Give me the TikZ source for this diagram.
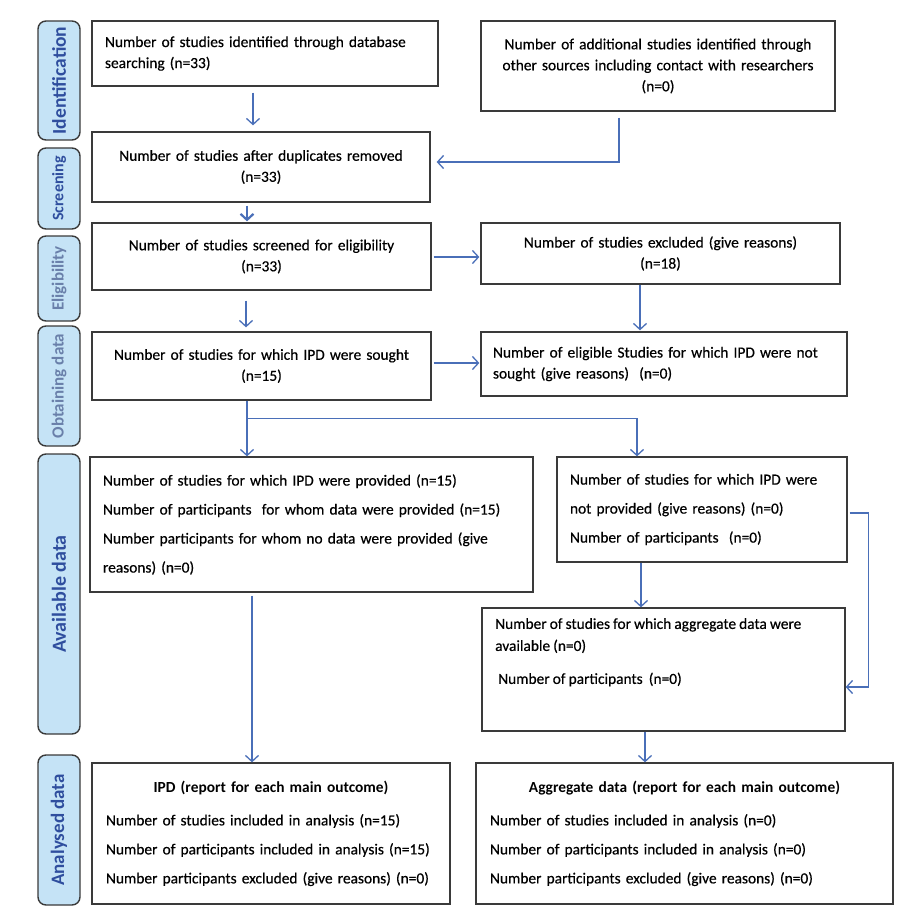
\documentclass[tikz,border=0pt]{standalone}
\usepackage{fontspec}
\setmainfont{Carlito}
\newfontface\bodyfont{Carlito}[FakeBold=0.5]
\usetikzlibrary{arrows.meta}
\definecolor{conn}{HTML}{4A6FB8}
\definecolor{boxline}{HTML}{3A3A3A}
\definecolor{lblfill}{HTML}{C5E3F6}
\definecolor{lbldark}{HTML}{2F4E9E}
\definecolor{lblfade}{HTML}{6A80AA}
\newcommand\bodysz[1]{\bodyfont\fontsize{15.4}{#1}\selectfont\spaceskip=0.2em\relax}
\newcommand\ttlfont{\rmfamily\bfseries\fontsize{15.4}{21}\selectfont}
\begin{document}
\begin{tikzpicture}[x=1pt,y=-1pt,
  box/.style={draw=boxline, line width=1.3pt, inner sep=0pt, font=\bodysz{21}},
  lbl/.style={draw=boxline, line width=1.4pt, fill=lblfill, rounded corners=8pt, minimum width=42pt, inner sep=0pt, rotate=90, font=\bfseries},
  arr/.style={draw=conn, line width=1.3pt, -{Straight Barb[length=6pt,width=13pt]}},
  ln/.style={draw=conn, line width=1.3pt}
]
\useasboundingbox (0,0) rectangle (923,920);

% stage labels
\node[lbl, minimum width=119pt, minimum height=42pt, text=lbldark, font=\bfseries\fontsize{19.5}{20}\selectfont] (sIdent) at (59,80.5) {Identification};
\node[lbl, minimum width=81pt, minimum height=42pt, text=lbldark, font=\bfseries\fontsize{16}{18}\selectfont] (sScreen) at (59,188.5) {Screening};
\node[lbl, minimum width=85pt, minimum height=42pt, text=lblfade, font=\bfseries\fontsize{17}{18}\selectfont] (sElig) at (59,278.5) {Eligibility};
\node[lbl, minimum width=120pt, minimum height=42pt, text=lblfade, font=\bfseries\fontsize{17}{18}\selectfont] (sObt) at (59,386) {Obtaining data};
\node[lbl, minimum width=280pt, minimum height=42pt, text=lbldark, font=\bfseries\fontsize{20}{22}\selectfont] (sAvail) at (59,594) {Available data};
\node[lbl, minimum width=150pt, minimum height=42pt, text=lbldark, font=\bfseries\fontsize{19}{20}\selectfont] (sAnal) at (59,830) {Analysed data};

% boxes
\node[box, minimum width=346pt, minimum height=65pt, text width=320pt, align=left] (b1) at (265,53.5)
  {\mbox{Number of studies identified through database}\\searching (n=33)};
\node[box, minimum width=354pt, minimum height=90pt, text width=340pt, align=center] (b2) at (658,66)
  {\mbox{Number of additional\ studies identified through}\\\mbox{other sources including contact\ with researchers}\\(n=0)};
\node[box, minimum width=338pt, minimum height=70pt, text width=320pt, align=center] (dup) at (261,167)
  {\mbox{Number of studies after duplicates removed}\\(n=33)};
\node[box, minimum width=339pt, minimum height=67pt, text width=320pt, align=center] (elig) at (261.5,256.5)
  {\mbox{Number of studies screened for eligibility}\\(n=33)};
\node[box, minimum width=359pt, minimum height=61pt, text width=340pt, align=center] (excl) at (660.5,253.5)
  {\mbox{Number of studies excluded (give reasons)}\\(n=18)};
\node[box, minimum width=339pt, minimum height=68pt, text width=320pt, align=center] (obt) at (261.5,366)
  {\mbox{Number of studies for which IPD were sought}\\(n=15)};
\node[box, minimum width=366pt, minimum height=64pt, text width=342pt, align=left] (nsought) at (664,364)
  {\mbox{Number of eligible\ Studies for which IPD were not}\\\mbox{sought (give reasons)\ \ (n=0)}};
\node[box, minimum width=443pt, minimum height=135pt, text width=417pt, align=left, font=\bodysz{29}] (prov) at (311.5,524.5)
  {\mbox{Number of studies for which IPD were provided (n=15)}\\\mbox{Number of participants\ \ for whom data were provided (n=15)}\\\mbox{Number participants\ for whom no data were provided (give}\\\mbox{reasons) (n=0)}};
\node[box, minimum width=290pt, minimum height=105pt, text width=264pt, align=left, font=\bodysz{29}] (nprov) at (702,509.5)
  {\mbox{Number of studies for which IPD were}\\\mbox{not provided (give reasons) (n=0)}\\\mbox{Number of participants\ \ (n=0)}};
\node[box, minimum width=363pt, minimum height=123pt] (aggav) at (663.5,669.5) {};
\node[font=\bodysz{22}, align=left, anchor=north west, inner sep=0pt] (aggavtxt) at (495,618)
  {\mbox{Number of studies for which aggregate data were}\\\mbox{available\ (n=0)}\\[11pt]\hspace{3pt}\mbox{Number of participants\ \ (n=0)}};
\node[box, minimum width=358pt, minimum height=141pt, text width=330pt, align=left, font=\bodysz{29}] (ipdan) at (271,833.5)
  {\makebox[\linewidth][c]{\ttlfont IPD (report for each main outcome)}\\[4pt]\mbox{Number of studies included\ in analysis (n=15)}\\\mbox{Number of participants\ included\ in analysis\ (n=15)}\\\mbox{Number participants\ excluded (give reasons) (n=0)}};
\node[box, minimum width=417pt, minimum height=141pt, text width=389pt, align=left, font=\bodysz{29}] (aggan) at (684.5,833.5)
  {\makebox[\linewidth][c]{\ttlfont Aggregate data (report for each main outcome)}\\[4pt]\mbox{Number of studies included in analysis (n=0)}\\\mbox{Number of participants\ included in analysis\ (n=0)}\\\mbox{Number participants excluded (give reasons) (n=0)}};

% connectors
\coordinate (c1) at ([xshift=-12pt]b1.south);
\draw[arr, shorten <=6pt, shorten >=6pt] (c1) -- (c1 |- dup.north);
\coordinate (c2) at ([xshift=-39pt]b2.south);
\draw[arr, shorten <=6pt, shorten >=6pt] (c2) |- ([yshift=5pt]dup.east);
\coordinate (c3) at ([xshift=-14pt]dup.south);
\draw[draw=conn, line width=2.6pt, -{Straight Barb[length=6pt,width=13pt,line width=2.2pt]}, shorten <=3pt, shorten >=1pt] (c3) -- (c3 |- elig.north);
\coordinate (c3b) at ([yshift=-0.5pt]elig.east);
\draw[arr, shorten <=2pt, shorten >=1pt] (c3b) -- (c3b -| excl.west);
\coordinate (c4) at ([xshift=-20.5pt]excl.south);
\draw[arr, shorten >=1pt] (c4) -- (c4 |- nsought.north);
\coordinate (c5) at ([xshift=-15.5pt]elig.south);
\draw[arr, shorten <=10pt, shorten >=4pt] (c5) -- (c5 |- obt.north);
\coordinate (c6) at ([yshift=3pt]obt.east);
\draw[arr, shorten <=2pt, shorten >=1pt] (c6) -- (c6 -| nsought.west);
\coordinate (c7) at ([xshift=-14.5pt]obt.south);
\coordinate (split) at ([yshift=-18pt]c7);
\coordinate (c8) at ([xshift=-65pt]nprov.north);
\draw[ln] (c7) -- (split);
\draw[arr] (split) -- (split |- prov.north);
\draw[arr] (split) -| (c8);
\coordinate (c9) at ([xshift=-59.5pt]prov.south);
\draw[arr, shorten <=3pt] (c9) -- (c9 |- ipdan.north);
\coordinate (c10) at ([xshift=-61pt]nprov.south);
\draw[arr] (c10) -- (c10 |- aggav.north);
\coordinate (c11) at ([yshift=-3.5pt]nprov.east);
\draw[arr, shorten <=2pt] (c11) -- ++(21,0) |- ([yshift=-17.5pt]aggav.east);
\coordinate (c12) at ([xshift=-18.5pt]aggav.south);
\draw[arr] (c12) -- (c12 |- aggan.north);
\end{tikzpicture}
\end{document}
